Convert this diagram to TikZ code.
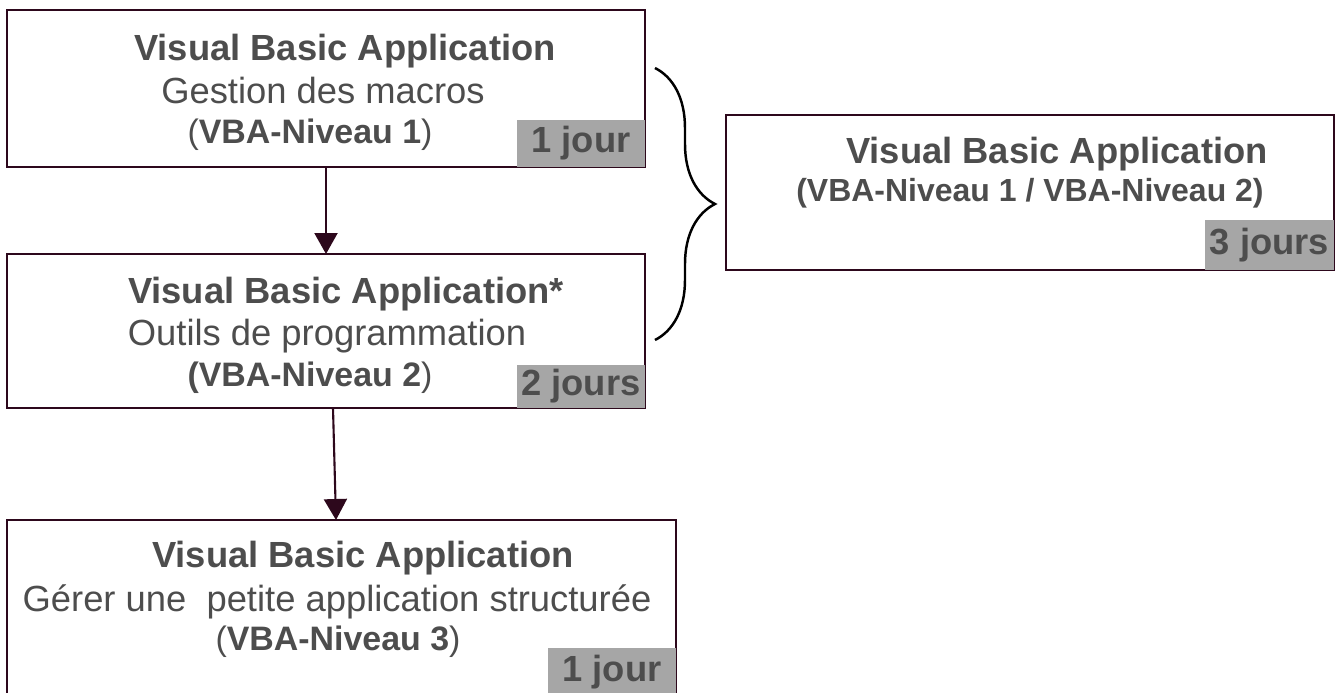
\documentclass[tikz,border=0pt]{standalone}
\usepackage{fontspec}
\setmainfont{Liberation Sans}
\usetikzlibrary{arrows.meta,decorations.pathreplacing}
\definecolor{boxline}{RGB}{45,8,28}
\definecolor{txtgray}{RGB}{77,77,77}
\definecolor{taggray}{RGB}{166,166,166}
\newcommand{\bigf}{\fontsize{20.7}{24}\selectfont}
\newcommand{\smallf}{\fontsize{19.3}{22}\selectfont}

\begin{document}
\begin{tikzpicture}[x=0.02cm,y=-0.02cm,
        box/.style={draw=boxline,line width=1.4pt,rectangle,inner sep=0pt,outer sep=0pt},
        tag/.style={fill=taggray,text=txtgray,inner sep=0pt,outer sep=0pt,anchor=south east,font=\bigf\bfseries},
        txt/.style={text=txtgray,anchor=base,inner sep=0pt},
        link/.style={draw=boxline,line width=1.2pt,-{Triangle[length=0.42cm,width=0.46cm]}}]
    \useasboundingbox (0,0) rectangle (1340,693);

    % the four boxes
    \node[box,minimum width=12.76cm,minimum height=3.14cm] (lvlone) at (326,88.5) {};
    \node[box,minimum width=12.76cm,minimum height=3.08cm] (lvltwo) at (326,331) {};
    \node[box,minimum width=13.38cm,minimum height=3.54cm] (lvlthree) at (341.5,608.5) {};
    \node[box,minimum width=12.16cm,minimum height=3.10cm] (lvlboth) at (1030,192.5) {};

    % durations
    \node[tag,minimum width=2.56cm,minimum height=0.94cm] (dur1) at (lvlone.south east) {1 jour};
    \node[tag,minimum width=2.56cm,minimum height=0.86cm] (dur2) at (lvltwo.south east) {2 jours};
    \node[tag,minimum width=2.56cm,minimum height=0.98cm] (dur3) at (lvlthree.south east) {1 jour};
    \node[tag,minimum width=2.58cm,minimum height=1.00cm] (dur4) at (lvlboth.south east) {3 jours};

    % texts
    \node[txt,font=\bigf\bfseries] (t1a) at (345,60) {Visual Basic Application};
    \node[txt,font=\bigf] (t1b) at (323,103) {Gestion des macros};
    \node[txt,font=\smallf] (t1c) at (310,143) {(\textbf{VBA-Niveau 1})};

    \node[txt,font=\bigf\bfseries] (t2a) at (346,303) {Visual Basic Application*};
    \node[txt,font=\bigf] (t2b) at (327,345) {Outils de programmation};
    \node[txt,font=\smallf] (t2c) at (310,386) {\textbf{(VBA-Niveau 2})};

    \node[txt,font=\bigf\bfseries] (t3a) at (363,567) {Visual Basic Application};
    \node[txt,font=\bigf] (t3b) at (337,611) {Gérer une\ \ petite application structurée};
    \node[txt,font=\smallf] (t3c) at (338,650) {(\textbf{VBA-Niveau 3})};

    \node[txt,font=\bigf\bfseries] (t4a) at (1057,163) {Visual Basic Application};
    \node[txt,font=\fontsize{18.2}{21}\selectfont\bfseries] (t4b) at (1030,201) {(VBA-Niveau 1 / VBA-Niveau 2)};

    % arrows
    \draw[link] (lvlone.south) -- (lvltwo.north);
    \draw[link] ([xshift=0.14cm]lvltwo.south) -- ([xshift=-0.11cm]lvlthree.north);

    % brace
    \coordinate (bracetop) at (655,68);
    \coordinate (bracebot) at (655,340);
    \draw[decorate,decoration={brace,amplitude=1.2cm},line width=1.4pt] (bracetop) -- (bracebot);
\end{tikzpicture}
\end{document}
